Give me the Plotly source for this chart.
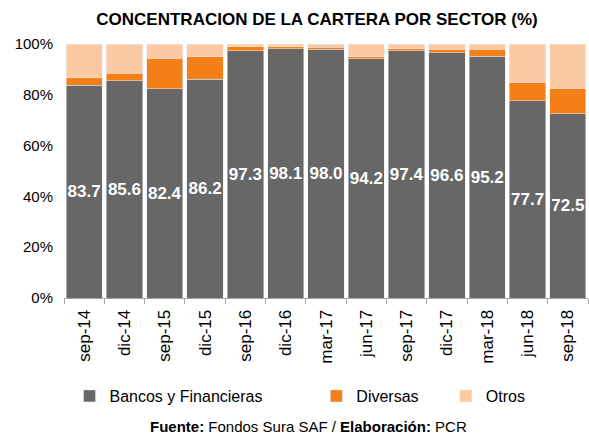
import plotly.graph_objects as go

categories = ["sep-14", "dic-14", "sep-15", "dic-15", "sep-16", "dic-16", "mar-17",
              "jun-17", "sep-17", "dic-17", "mar-18", "jun-18", "sep-18"]
bancos = [83.7, 85.6, 82.4, 86.2, 97.3, 98.1, 98.0, 94.2, 97.4, 96.6, 95.2, 77.7, 72.5]
diversas = [3.1, 2.8, 11.9, 8.8, 1.6, 0.8, 0.8, 0.7, 0.7, 1.4, 2.8, 7.3, 10.0]
otros = [13.2, 11.6, 5.7, 5.0, 1.1, 1.1, 1.2, 5.1, 1.9, 2.0, 2.0, 15.0, 17.5]

y_ticks = [0, 20, 40, 60, 80, 100]
y_tick_labels = ["0%", "20%", "40%", "60%", "80%", "100%"]

FONT = "Liberation Sans, Arial, sans-serif"
NB = "\u00a0"

fig = go.Figure()
fig.add_trace(go.Bar(
    x=categories, y=bancos, name="Bancos y Financieras" + NB * 11,
    marker=dict(color="#676767"),
    text=[f"{v:.1f}" for v in bancos], textposition="inside", textangle=0,
    insidetextanchor="middle", constraintext="none",
    textfont=dict(color="white", size=17, family=FONT, weight="bold"),
))
fig.add_trace(go.Bar(
    x=categories, y=diversas, name="Diversas" + NB * 5,
    marker=dict(color="#F57F17"),
))
fig.add_trace(go.Bar(
    x=categories, y=otros, name="Otros",
    marker=dict(color="#FBCAA2"),
))

W, H = 589, 437
L, R, T, B = 64, 1, 44, 139
ph = H - T - B
pw = W - L - R

fig.update_layout(
    width=W, height=H,
    barmode="stack", bargap=0.1,
    plot_bgcolor="white", paper_bgcolor="white",
    margin=dict(l=L, r=R, t=T, b=B, autoexpand=False),
    font=dict(family=FONT, size=15, color="#000000"),
    title=dict(text="<b>CONCENTRACION DE LA CARTERA POR SECTOR (%)</b>",
               x=(317) / W, xanchor="center", y=1 - 19 / H, yanchor="middle",
               font=dict(size=17, family=FONT, color="#000000")),
    showlegend=True,
    legend=dict(orientation="h", x=(300 - L) / pw, xanchor="center",
                y=-(396 - (H - B)) / ph, yanchor="middle",
                font=dict(size=16, family=FONT), traceorder="normal",
                itemwidth=30, bgcolor="rgba(0,0,0,0)"),
    xaxis=dict(type="category", tickangle=-90, showline=True, linecolor="#A6A6A6",
               linewidth=1, ticks="outside", tickson="boundaries", ticklen=5,
               tickcolor="#A6A6A6", tickfont=dict(size=17, family=FONT),
               ticklabelstandoff=4, showgrid=False),
    yaxis=dict(range=[0, 100], tickmode="array", tickvals=y_ticks,
               ticktext=y_tick_labels,
               showgrid=False, showline=False, zeroline=False,
               ticklabelstandoff=10, tickfont=dict(size=15, family=FONT)),
    annotations=[dict(
        text="<b>Fuente:</b> Fondos Sura SAF / <b>Elaboración:</b> PCR",
        xref="paper", yref="paper", x=(308 - L) / pw, xanchor="center",
        y=-(426 - (H - B)) / ph, yanchor="middle", showarrow=False,
        font=dict(size=15, family=FONT, color="#000000"))],
)

fig.write_html("out.html", config={"displayModeBar": False},
               post_script="document.body.style.margin='0';")
